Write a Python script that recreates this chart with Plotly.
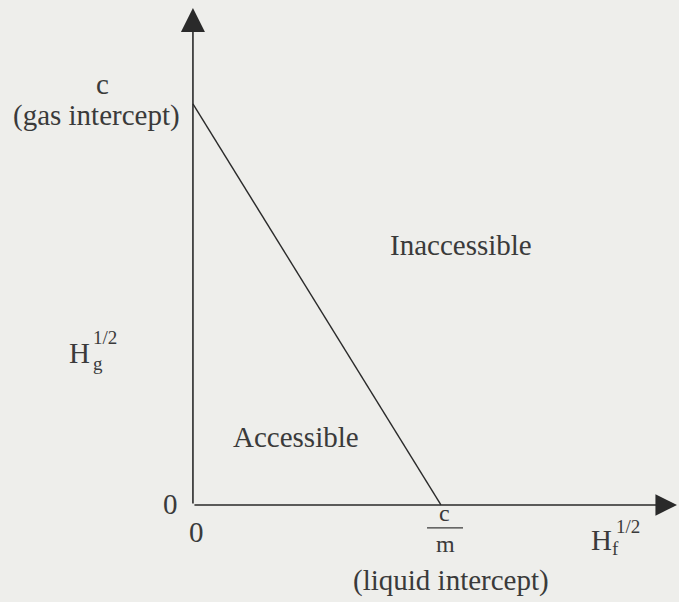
import plotly.graph_objects as go

# Axis scale: x in units of the liquid intercept (c/m), y in units of the gas intercept (c)
gas_intercept = 1.0      # H_g^1/2 where H_f^1/2 = 0
liquid_intercept = 1.0   # H_f^1/2 where H_g^1/2 = 0
boundary_x = [0.0, liquid_intercept]
boundary_y = [gas_intercept, 0.0]

x_range = [-0.778, 1.960]
y_range = [-0.242, 1.259]
x_axis_end = 1.952
y_axis_end = 1.239

INK = "#2a2a2a"
TEXT = "#3a3a3a"
FONT = "Liberation Serif, Times New Roman, serif"
BG = "#eeeeeb"
FS = 29       # main label size
FS_FRAC = 24  # c/m fraction
FS_SMALL = 19 # sub/superscripts

fig = go.Figure()

# Boundary between accessible and inaccessible regions
fig.add_trace(go.Scatter(x=boundary_x, y=boundary_y, mode="lines",
                         line=dict(color=INK, width=1.4), hoverinfo="skip",
                         showlegend=False))

# Axes drawn as arrows from the origin
for x_, y_, size in [(0, y_axis_end, 3.0), (x_axis_end, 0, 2.7)]:
    fig.add_annotation(x=x_, y=y_, ax=0, ay=0, xref="x", yref="y",
                       axref="x", ayref="y", showarrow=True, text="",
                       arrowhead=2, arrowsize=size, arrowwidth=1.6,
                       arrowcolor=INK)

def label(x, y, text, size=FS, xanchor="center", yanchor="middle", xshift=0, yshift=0):
    fig.add_annotation(x=x, y=y, xref="x", yref="y", text=text, showarrow=False,
                       font=dict(family=FONT, size=size, color=TEXT),
                       xanchor=xanchor, yanchor=yanchor, xshift=xshift, yshift=yshift)

# Gas intercept label
label(0, gas_intercept, "c", xshift=-90, yshift=20)
label(0, gas_intercept, "(gas intercept)", xshift=-96, yshift=-12)

# Region names
label(1.081, 0.648, "Inaccessible")
label(0.415, 0.17, "Accessible")

# Vertical axis title H_g^1/2
label(0, 0.38, "H", xshift=-113)
label(0, 0.38, "g", xshift=-95, yshift=-11, size=FS_SMALL)
label(0, 0.38, "1/2", xshift=-102, yshift=15, size=FS_SMALL, xanchor="left")

# Origin ticks
label(0, 0, "0", xshift=-22, yshift=1)
label(0, 0, "0", xshift=4, yshift=-27)

# Liquid intercept c/m
label(liquid_intercept, 0, "c", size=FS_FRAC, xshift=4, yshift=-8)
fig.add_shape(type="line", xref="x", yref="y",
              x0=liquid_intercept - 0.056, x1=liquid_intercept + 0.089,
              y0=-0.0574, y1=-0.0574, line=dict(color=TEXT, width=1.2))
label(liquid_intercept, 0, "m", size=FS_FRAC, xshift=5, yshift=-39)
label(liquid_intercept, 0, "(liquid intercept)", xshift=10, yshift=-76)

# Horizontal axis title H_f^1/2
label(x_axis_end, 0, "H", xshift=-76, yshift=-35)
label(x_axis_end, 0, "f", xshift=-62, yshift=-44, size=FS_SMALL)
label(x_axis_end, 0, "1/2", xshift=-63, yshift=-22, size=FS_SMALL, xanchor="left")

fig.update_xaxes(range=x_range, visible=False, fixedrange=True)
fig.update_yaxes(range=y_range, visible=False, fixedrange=True)
fig.update_layout(width=679, height=602, margin=dict(l=0, r=0, t=0, b=0),
                  paper_bgcolor=BG, plot_bgcolor=BG)

fig.write_html("out.html")
